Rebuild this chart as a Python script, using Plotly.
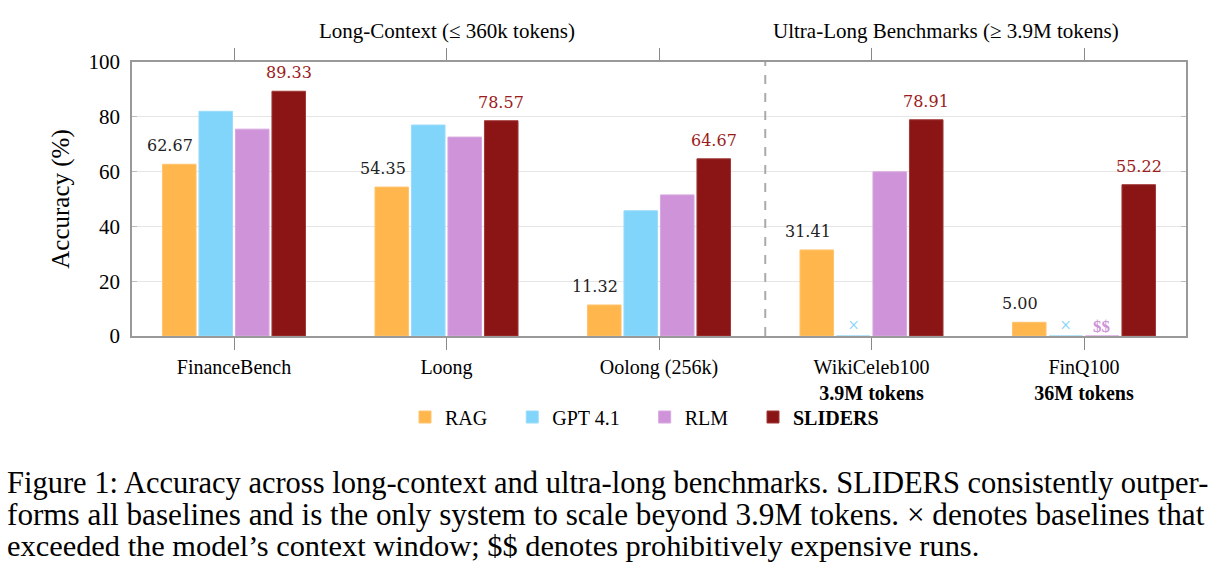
import plotly.graph_objects as go

# ---------------- data ----------------
categories = ["FinanceBench", "Loong", "Oolong (256k)", "WikiCeleb100", "FinQ100"]
tick_labels = ["FinanceBench", "Loong", "Oolong (256k)",
               "WikiCeleb100<br><b>3.9M tokens</b>", "FinQ100<br><b>36M tokens</b>"]
series_names = ["RAG", "GPT 4.1", "RLM", "SLIDERS"]
rag = [62.67, 54.35, 11.32, 31.41, 5.00]
gpt41 = [82.0, 77.0, 45.7, 0, 0]
rlm = [75.5, 72.6, 51.5, 59.9, 0]
sliders = [89.33, 78.57, 64.67, 78.91, 55.22]
# markers for missing runs: (series, category, symbol)
missing = [("GPT 4.1", "WikiCeleb100", "×"), ("GPT 4.1", "FinQ100", "×"), ("RLM", "FinQ100", "$$")]
group_titles = ["Long-Context (≤ 360k tokens)", "Ultra-Long Benchmarks (≥ 3.9M tokens)"]
y_ticks = [0, 20, 40, 60, 80, 100]
caption_lines = [
    "Figure 1: Accuracy across long-context and ultra-long benchmarks. SLIDERS consistently outper-",
    "forms all baselines and is the only system to scale beyond 3.9M tokens. × denotes baselines that",
    "exceeded the model’s context window; $$ denotes prohibitively expensive runs.",
]

# ---------------- style ----------------
colors = ["#FFB74D", "#81D4FA", "#CE93D8", "#8B1515"]
edge = ["#FFC46E", "#9ADCFA", "#D8A8E0", "#A03838"]
label_colors = ["#222222", None, None, "#9B1C1C"]
W, H = 1223, 575
ML, MR, MT, MB = 132, 37, 62, 239
XR = [-0.48, 4.48]
BARGAP = 0.313
SERIF = "Liberation Serif, Times New Roman, serif"
cap_y = [483, 514, 546]
cap_size = [30.5, 31.2, 30.4]
LEGEND_PAD = "\u00a0" * 4

values = [rag, gpt41, rlm, sliders]
fig = go.Figure()
for k, (name, vals, c, e) in enumerate(zip(series_names, values, colors, edge)):
    label = ("<b>%s</b>" % name) if name == "SLIDERS" else name
    if k < len(series_names) - 1:
        label += LEGEND_PAD
    fig.add_trace(go.Bar(
        x=categories, y=vals, name=label,
        marker=dict(color=c, line=dict(color=e, width=1)),
    ))

plot_w = W - ML - MR
plot_h = H - MT - MB
px_per_unit = plot_w / (XR[1] - XR[0])
slot = (1 - BARGAP) / len(series_names)

def offset_px(i):
    return (i - (len(series_names) - 1) / 2) * slot * px_per_unit

annotations = []
for i, (vals, lc) in enumerate(zip(values, label_colors)):
    if lc is None:
        continue
    extra = -9 if i == 0 else 0
    for cat, v in zip(categories, vals):
        annotations.append(dict(
            x=cat, y=v, xref="x", yref="y", text="%.2f" % v, showarrow=False,
            yanchor="bottom", yshift=7, xshift=offset_px(i) + extra,
            font=dict(family="DejaVu Serif, serif", size=16, color=lc),
        ))

for sname, cat, sym in missing:
    i = series_names.index(sname)
    annotations.append(dict(
        x=cat, y=0, xref="x", yref="y", text=("<b>%s</b>" % sym) if sym == "$$" else sym,
        showarrow=False, yanchor="bottom", yshift=-2, xshift=offset_px(i),
        font=dict(family=SERIF, size=20 if sym != "$$" else 17, color=colors[i]),
    ))

# group headers
annotations.append(dict(x=1, y=1, xref="x", yref="paper", text=group_titles[0], showarrow=False,
                        yanchor="bottom", yshift=17, font=dict(family=SERIF, size=21, color="black")))
annotations.append(dict(x=3.35, y=1, xref="x", yref="paper", text=group_titles[1], showarrow=False,
                        yanchor="bottom", yshift=17, font=dict(family=SERIF, size=21, color="black")))

# caption (paper coords are relative to the plot area)
for line, yy, fs in zip(caption_lines, cap_y, cap_size):
    annotations.append(dict(
        x=(5 - ML) / plot_w, y=(H - MB - yy) / plot_h, xref="paper", yref="paper",
        xanchor="left", yanchor="middle",
        text=line, showarrow=False, font=dict(family=SERIF, size=fs, color="black"),
    ))

fig.update_layout(
    width=W, height=H,
    margin=dict(l=ML, r=MR, t=MT, b=MB, autoexpand=False),
    paper_bgcolor="white", plot_bgcolor="white",
    barmode="group", bargap=BARGAP, bargroupgap=0.08,
    font=dict(family=SERIF, color="black"),
    legend=dict(orientation="h", x=(405 - ML) / plot_w, xanchor="left",
                y=(H - MB - 417) / plot_h, yanchor="middle",
                font=dict(family=SERIF, size=20, color="black"), itemwidth=30,
                traceorder="normal", bgcolor="rgba(0,0,0,0)"),
    annotations=annotations,
    shapes=[dict(type="line", xref="x", yref="y", x0=2.5, x1=2.5, y0=0, y1=100,
                 line=dict(color="#AAAAAA", width=2, dash="dash"))],
)
fig.update_xaxes(
    range=XR, tickvals=categories, ticktext=tick_labels, ticks="outside", ticklen=12,
    tickcolor="#888888", tickwidth=1, showline=True, linecolor="#999999", linewidth=1.5,
    mirror="ticks", showgrid=False, tickfont=dict(family=SERIF, size=20, color="black"),
    zeroline=False,
)
fig.update_yaxes(
    range=[0, 100], tickvals=y_ticks, ticks="inside", ticklen=5, tickcolor="#BBBBBB",
    showline=True, linecolor="#999999", linewidth=1.5, mirror="ticks",
    showgrid=True, gridcolor="#E6E6E6", gridwidth=1, zeroline=False,
    tickfont=dict(family=SERIF, size=21, color="black"), ticklabelstandoff=6,
    title=dict(text="Accuracy (%)", font=dict(family=SERIF, size=25, color="black"), standoff=12),
)

fig.write_html("out.html")
